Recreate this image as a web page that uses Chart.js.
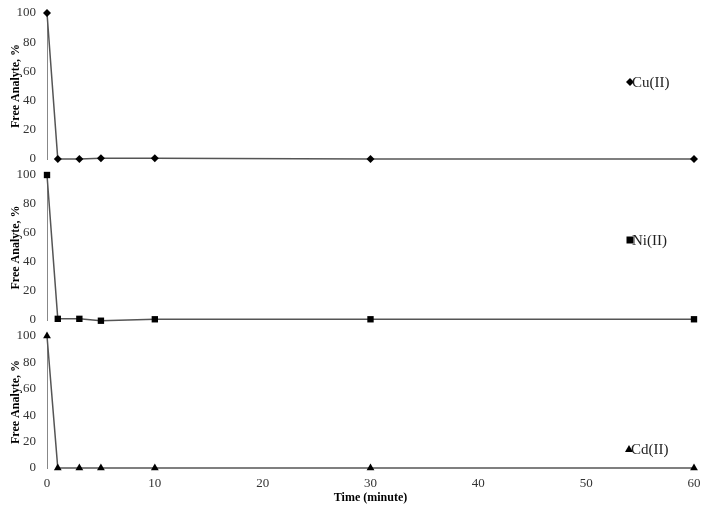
<!DOCTYPE html>
<html><head><meta charset="utf-8">
<script src="https://cdn.jsdelivr.net/npm/chart.js@4/dist/chart.umd.min.js"></script>
<style>
html,body{margin:0;padding:0;background:#fff;width:710px;height:511px;overflow:hidden}
canvas{position:absolute;left:0;top:0}
</style></head>
<body>
<canvas id="c1" width="710" height="511"></canvas>
<canvas id="c2" width="710" height="511"></canvas>
<canvas id="c3" width="710" height="511"></canvas>
<script>
const times = [0, 1, 3, 5, 10, 30, 60];
const cuValues = [100, 0, 0, 0.5, 0.5, 0, 0];
const niValues = [100, 0.8, 0.8, -0.5, 0.5, 0.5, 0.5];
const cdValues = [100, 0, 0, 0, 0, 0, 0];
const seriesLabels = ['Cu(II)', 'Ni(II)', 'Cd(II)'];
const yTicks = [0, 20, 40, 60, 80, 100];
const xTicks = [0, 10, 20, 30, 40, 50, 60];
const yTitle = 'Free Analyte, %';
const xTitle = 'Time (minute)';

const SERIF = "'Liberation Serif','Times New Roman',serif";

const legendPlugin = {
  id: 'inlineLegend',
  afterDatasetsDraw(chart, args, opts) {
    const ctx = chart.ctx;
    const x = opts.x, y = opts.y;
    ctx.save();
    ctx.fillStyle = '#000';
    const st = opts.style;
    ctx.beginPath();
    if (st === 'rectRot') {
      ctx.moveTo(x, y - 4); ctx.lineTo(x + 4, y); ctx.lineTo(x, y + 4); ctx.lineTo(x - 4, y); ctx.closePath();
    } else if (st === 'rect') {
      ctx.rect(x - 3.5, y - 3.5, 7, 7);
    } else {
      ctx.moveTo(x, y - 4); ctx.lineTo(x + 4, y + 3); ctx.lineTo(x - 4, y + 3); ctx.closePath();
    }
    ctx.fill();
    ctx.font = "15px " + SERIF;
    ctx.fillStyle = '#222';
    ctx.textBaseline = 'middle';
    ctx.textAlign = 'left';
    ctx.fillText(opts.text, x + 2, y + 1);
    ctx.restore();
  }
};

function makePanel(id, values, pointStyle, radius, label, top, bottom, showX, legend) {
  return new Chart(document.getElementById(id), {
    type: 'scatter',
    data: {
      datasets: [{
        label: label,
        data: times.map((t, i) => ({x: t, y: values[i]})),
        showLine: true,
        borderColor: '#555',
        borderWidth: 1.5,
        pointStyle: pointStyle,
        pointRadius: radius,
        pointBackgroundColor: '#000',
        pointBorderColor: '#000',
        pointBorderWidth: 0,
        clip: false
      }]
    },
    options: {
      responsive: false,
      animation: false,
      layout: {padding: {left: 0, right: 16, top: top, bottom: 0}},
      plugins: {
        legend: {display: false},
        tooltip: {enabled: false},
        inlineLegend: legend
      },
      scales: {
        x: {
          type: 'linear', min: 0, max: 60,
          display: true,
          grid: {display: false, drawTicks: false},
          border: {display: false},
          afterBuildTicks: s => { s.ticks = xTicks.map(v => ({value: v})); },
          afterFit: s => { s.height = 511 - bottom; s.paddingLeft = 0; s.paddingRight = 0; },
          ticks: {display: showX, padding: 8, color: '#333', font: {family: SERIF, size: 13}},
          title: {display: showX, text: xTitle, color: '#000', padding: {top: 0, bottom: 6},
                  font: {family: SERIF, size: 12, weight: 'bold'}}
        },
        y: {
          min: 0, max: 100,
          grid: {display: false, drawTicks: false},
          border: {display: true, color: '#888', width: 1},
          afterBuildTicks: s => { s.ticks = yTicks.map(v => ({value: v})); },
          afterFit: s => { s.width = 47; s.paddingTop = 0; s.paddingBottom = 0; },
          ticks: {padding: 11, color: '#333', font: {family: SERIF, size: 13}},
          title: {display: true, text: yTitle, color: '#000', padding: {top: 9, bottom: 0},
                  font: {family: SERIF, size: 12, weight: 'bold'}}
        }
      }
    },
    plugins: [legendPlugin]
  });
}

makePanel('c1', cuValues, 'rectRot', 4, seriesLabels[0], 13, 159, false,
  {x: 630, y: 82, style: 'rectRot', text: seriesLabels[0]});
makePanel('c2', niValues, 'rect', 4.5, seriesLabels[1], 175, 320, false,
  {x: 630, y: 240, style: 'rect', text: seriesLabels[1]});
makePanel('c3', cdValues, 'triangle', 4.5, seriesLabels[2], 336, 468, true,
  {x: 629, y: 449, style: 'triangle', text: seriesLabels[2]});
</script>
</body></html>
